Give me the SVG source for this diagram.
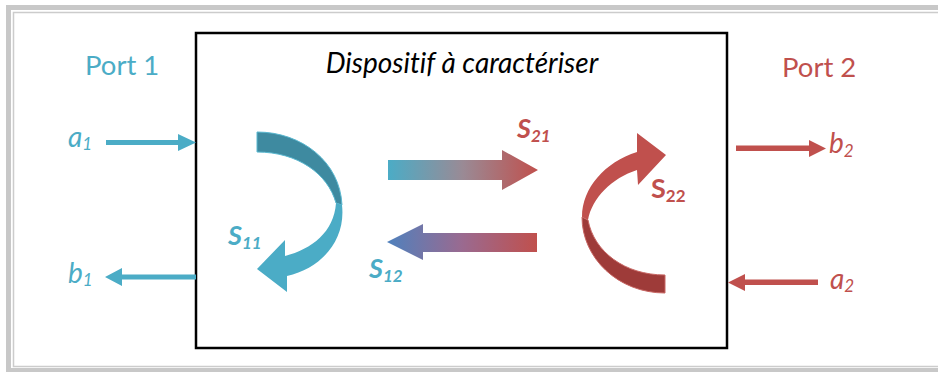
<svg xmlns="http://www.w3.org/2000/svg" width="938" height="372" viewBox="0 0 938 372">
<style>
.t{font-family:Lato,"Noto Sans",sans-serif;font-variant-ligatures:none}
.teal{fill:#4bacc6}
.red{fill:#c0504d}
.lbl{font-size:27.5px}
.var{font-size:28px;font-style:italic}
.sub{font-size:17px}
.s{font-size:27px;font-weight:bold;font-style:italic}
.ssub{font-size:17px;font-weight:bold;font-style:italic}
</style>
<defs>
<linearGradient id="g21" x1="388" y1="0" x2="538" y2="0" gradientUnits="userSpaceOnUse">
<stop offset="0" stop-color="#4bacc6"/>
<stop offset="0.5" stop-color="#9a8a95"/>
<stop offset="1" stop-color="#c0504d"/>
</linearGradient>
<linearGradient id="g12" x1="387" y1="0" x2="537" y2="0" gradientUnits="userSpaceOnUse">
<stop offset="0" stop-color="#4f81bd"/>
<stop offset="0.5" stop-color="#9a6a90"/>
<stop offset="1" stop-color="#c0504d"/>
</linearGradient>
</defs>
<rect width="938" height="372" fill="#fff"/>
<g id="frame" fill="none">
<path d="M938,7.5 H8.5 V370.5 H938" stroke="#c8c8c8" stroke-width="5"/>
<path d="M938,12.5 H13.5 V366.5 H938" stroke="#cccccc" stroke-width="1.5"/>
</g>
<g id="device">
<rect x="196" y="33" width="531" height="315" fill="#fff" stroke="#000" stroke-width="2.5"/>
<text class="t" x="462" y="73" font-size="28" font-style="italic" text-anchor="middle" fill="#000">Dispositif à caractériser</text>
</g>
<g id="port1">
<text class="t teal lbl" x="85" y="75">Port 1</text>
<text class="t teal var" x="68" y="147">a<tspan class="sub" dy="3">1</tspan></text>
<text class="t teal var" x="68" y="283">b<tspan class="sub" dy="3">1</tspan></text>
</g>
<g id="port2">
<text class="t red lbl" x="782" y="77">Port 2</text>
<text class="t red var" x="829" y="153">b<tspan class="sub" dy="4">2</tspan></text>
<text class="t red var" x="830" y="289">a<tspan class="sub" dy="3">2</tspan></text>
</g>
<g id="connectors">
<path d="M106,140 H178 V134 L196,142.5 L178,151 V145 H106 Z" fill="#4bacc6"/>
<path d="M196,274.5 H122 V268 L105,277 L122,286 V279.5 H196 Z" fill="#4bacc6"/>
<path d="M736,145.5 H809 V140 L826,148.5 L809,157 V151 H736 Z" fill="#c0504d"/>
<path d="M818,279.5 H745 V274 L728,282.5 L745,291 V285 H818 Z" fill="#c0504d"/>
</g>
<g id="s11">
<path d="M257,132 C302,132 340,162 342,205 L336,203 C328,174 298,152 257,152 Z" fill="#3e8aa0" stroke="#5ab8d0" stroke-width="1"/>
<path d="M342,205 C346,240 322,268 287,276 L287,292 L257,269 L285,240 L285,256 C312,249 334,232 336,203 Z" fill="#4bacc6"/>
<text class="t teal s" x="228" y="245">S<tspan class="ssub" dy="4">11</tspan></text>
</g>
<g id="s21">
<path d="M388,160 H502 V150 L538,170 L502,190 V180 H388 Z" fill="url(#g21)"/>
<text class="t red s" x="517" y="138">S<tspan class="ssub" dy="4">21</tspan></text>
</g>
<g id="s12">
<path d="M537,233 H423 V224 L387,242 L423,260 V252 H537 Z" fill="url(#g12)"/>
<text class="t teal s" x="369" y="278">S<tspan class="ssub" dy="4">12</tspan></text>
</g>
<g id="s22">
<path d="M637,152 C605,162 582,188 582,217 L588,220 C592,198 612,178 637,170 L638,185 L666,155 L637,133 Z" fill="#c0504d"/>
<path d="M582,217 C582,258 618,293 665,293 L665,275 C625,275 594,252 588,220 Z" fill="#9e3b39" stroke="#c86764" stroke-width="1"/>
<text class="t red" x="651" y="198" font-size="27" font-weight="bold">S<tspan font-size="17" dy="4">22</tspan></text>
</g>
</svg>
